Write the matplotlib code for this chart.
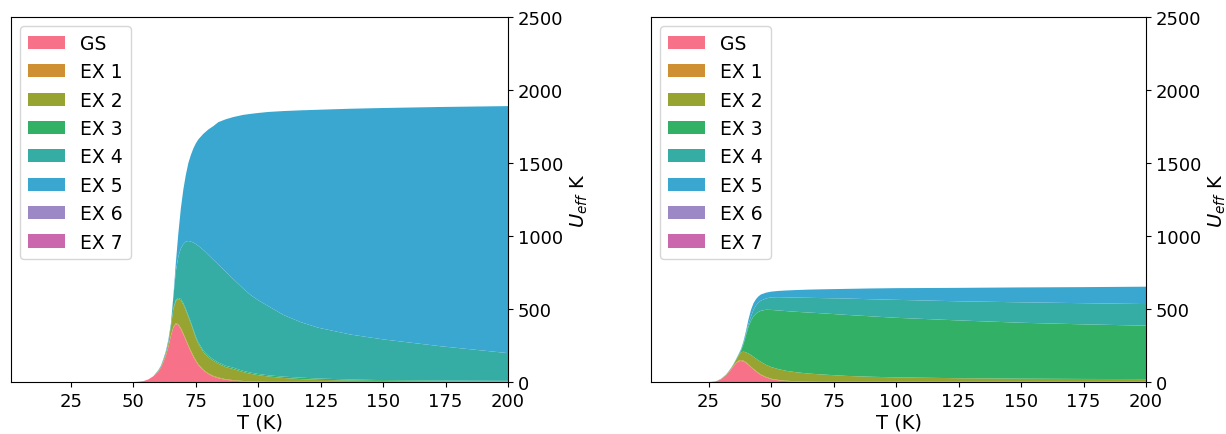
import matplotlib.pyplot as plt
import seaborn as sns

# etiquettes des etats
labels = ["GS", "EX 1", "EX 2", "EX 3", "EX 4", "EX 5", "EX 6", "EX 7"]

# panneau gauche : contributions a Ueff (K) en fonction de T (K)
T_a = [1, 50, 52, 54, 56, 58, 60, 61, 62, 63, 64, 65, 66, 67, 68, 69, 70, 71, 72,
       73, 74, 75, 76, 78, 80, 82, 84, 87, 90, 94, 97, 100, 104, 110, 117, 124,
       137, 150, 173, 200]
gs_a = [0, 0, 2, 6, 18, 40, 72, 98, 135, 180, 240, 315, 372, 397, 388, 362, 325, 285, 245,
        207, 172, 142, 116, 78, 54, 37, 26, 15, 9, 4, 2, 1, 0, 0, 0, 0,
        0, 0, 0, 0]
ex1_a = [0, 0, 0, 0, 0, 0, 1, 1, 2, 2, 3, 4, 5, 6, 7, 8, 8, 8, 8,
         8, 8, 7, 7, 6, 6, 5, 5, 4, 4, 3, 3, 3, 2, 2, 2, 2,
         1, 1, 1, 1]
ex2_a = [0, 0, 0, 0, 0, 0, 4, 6, 10, 15, 25, 60, 123, 152, 173, 190, 197, 197, 192,
         185, 170, 151, 139, 121, 110, 103, 94, 83, 76, 61, 51, 43, 36, 26, 18, 13,
         9, 6, 4, 3]
ex3_a = [0, 0, 0, 0, 0, 0, 1, 1, 2, 2, 3, 4, 6, 7, 8, 9, 10, 10, 10,
         10, 10, 10, 10, 10, 10, 10, 9, 9, 9, 8, 8, 8, 8, 9, 10, 9,
         7, 6, 5, 4]
ex4_a = [0, 0, 0, 0, 0, 0, 2, 3, 4, 6, 10, 15, 79, 198, 284, 346, 405, 462, 511,
         552, 595, 635, 660, 690, 692, 683, 671, 644, 607, 564, 531, 505, 474, 423, 380, 348,
         308, 279, 235, 190]
ex5_a = [0, 0, 0, 0, 0, 0, 2, 3, 5, 8, 9, 2, 5, 60, 160, 275, 375, 458, 534,
         593, 645, 690, 730, 795, 858, 915, 975, 1045, 1110, 1190, 1242, 1283, 1330, 1396, 1451, 1493,
         1547, 1585, 1639, 1692]
ex6_a = [0] * len(T_a)
ex7_a = [0] * len(T_a)

# panneau droit
T_b = [2, 25, 26, 28, 30, 32, 33, 34, 35, 36, 37, 38, 39, 40, 41, 42, 43, 44, 45,
       46, 48, 50, 53, 56, 60, 65, 70, 80, 90, 100, 125, 150, 175, 200]
gs_b = [0, 0, 1, 5, 18, 45, 65, 85, 108, 128, 141, 144, 140, 130, 116, 100, 85, 71, 58,
        47, 31, 20, 11, 6, 3, 1, 0, 0, 0, 0, 0, 0, 0, 0]
ex1_b = [0, 0, 0, 0, 0, 1, 1, 2, 3, 4, 5, 6, 6, 6, 6, 5, 5, 5, 5,
         4, 4, 3, 3, 3, 2, 2, 2, 2, 2, 2, 2, 2, 2, 2]
ex2_b = [0, 0, 0, 0, 2, 2, 4, 5, 9, 18, 34, 54, 62, 67, 73, 80, 82, 84, 85,
         87, 83, 80, 74, 68, 62, 55, 50, 40, 34, 30, 24, 21, 19, 18]
ex3_b = [0, 0, 0, 0, 1, 1, 1, 2, 2, 2, 4, 11, 52, 117, 185, 235, 278, 308, 332,
         350, 377, 391, 402, 409, 414, 418, 419, 418, 414, 408, 396, 383, 374, 366]
ex4_b = [0, 0, 0, 0, 0, 1, 1, 1, 1, 2, 3, 5, 8, 12, 20, 30, 45, 57, 65,
         70, 77, 86, 91, 94, 97, 101, 104, 112, 117, 123, 131, 140, 145, 148]
ex5_b = [0, 0, 0, 0, 1, 1, 1, 1, 1, 2, 3, 6, 12, 18, 30, 45, 45, 43, 42,
         42, 40, 39, 43, 47, 52, 56, 60, 66, 74, 80, 92, 102, 110, 119]
ex6_b = [0] * len(T_b)
ex7_b = [0] * len(T_b)

couleurs = sns.color_palette("husl", 8)
couleurs[6] = "#9b88c5"  # EX 6 plus terne dans l'original
couleurs[7] = "#cb67ad"  # EX 7

fig = plt.figure(figsize=(12.26, 4.35), dpi=100)
ax1 = fig.add_axes([0.009, 0.1195, 0.4054, 0.839])
ax2 = fig.add_axes([0.531, 0.1195, 0.4038, 0.839])

panneaux = [
    (ax1, T_a, [gs_a, ex1_a, ex2_a, ex3_a, ex4_a, ex5_a, ex6_a, ex7_a]),
    (ax2, T_b, [gs_b, ex1_b, ex2_b, ex3_b, ex4_b, ex5_b, ex6_b, ex7_b]),
]

for ax, T, series in panneaux:
    ax.stackplot(T, *series, labels=labels, colors=couleurs)
    ax.set_xlim(T[0], T[-1])
    ax.set_ylim(0, 2500)
    ax.set_yticks([0, 500, 1000, 1500, 2000, 2500])
    ax.yaxis.tick_right()
    ax.yaxis.set_label_position("right")
    ax.set_xlabel("T (K)", fontsize=14, labelpad=2)
    ax.set_ylabel(r"$U_{eff}$ K", fontsize=14)
    ax.tick_params(labelsize=13)
    ax.legend(loc="upper left", fontsize=13.5)

fig.savefig("out.png", dpi=100)
